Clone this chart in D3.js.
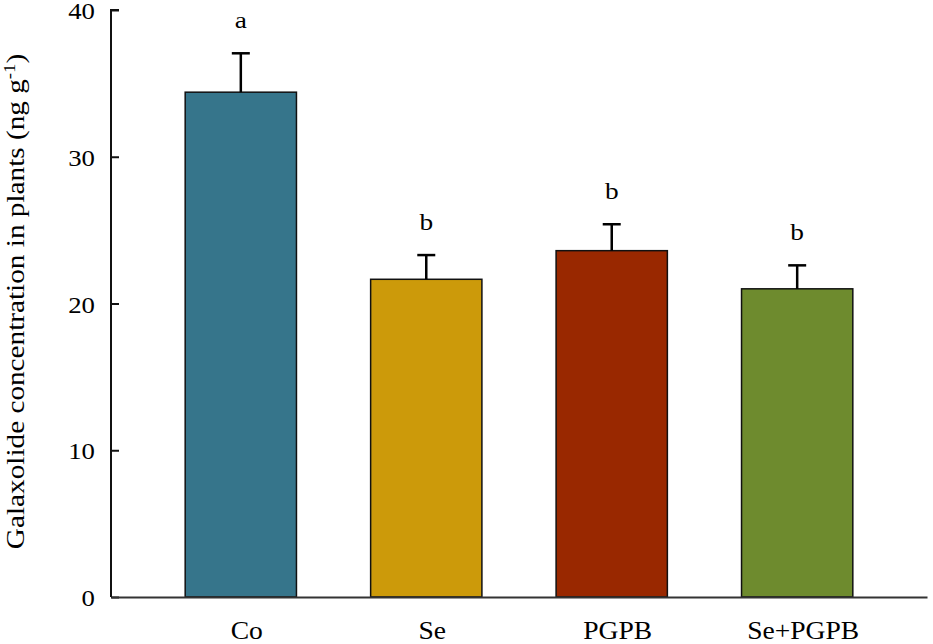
<!DOCTYPE html>
<html>
<head>
<meta charset="utf-8">
<script src="https://cdn.jsdelivr.net/npm/d3@7"></script>
<style>
  html, body { margin: 0; padding: 0; background: #fff; }
  svg { display: block; font-family: "Liberation Serif", "Times New Roman", serif; }
</style>
</head>
<body>
<div id="chart"></div>
<script>
// Galaxolide in plants, per treatment
const groups = ['Co', 'Se', 'PGPB', 'Se+PGPB'];
const means = [34.4, 21.65, 23.6, 21.0];
const errors = [2.65, 1.65, 1.8, 1.6];
const letters = ['a', 'b', 'b', 'b'];
const colors = ['#36758b', '#cc9a0a', '#992800', '#6e8b2e'];
const yTicks = [0, 10, 20, 30, 40];

const W = 933, H = 644;
const plotL = 111, plotR = 927, plotT = 10, plotB = 597;
const stretch = 1.14; // the original serif text is set a bit wide

const svg = d3.select('#chart').append('svg')
    .attr('width', W)
    .attr('height', H);

const x = d3.scaleBand()
    .domain(groups)
    .range([plotL, plotR])
    .paddingInner(0.4)
    .paddingOuter(0.4);

const y = d3.scaleLinear()
    .domain([0, 40])
    .range([plotB, plotT]);

// bars
svg.selectAll('.bar')
    .data(groups)
    .enter()
    .append('rect')
    .attr('class', 'bar')
    .attr('x', d => x(d))
    .attr('y', (d, i) => y(means[i]))
    .attr('width', x.bandwidth())
    .attr('height', (d, i) => y(0) - y(means[i]))
    .attr('fill', (d, i) => colors[i])
    .attr('stroke', '#111')
    .attr('stroke-width', 1.5);

// error bars (upper only)
const capW = 18;
const eb = svg.selectAll('.err')
    .data(groups)
    .enter()
    .append('g')
    .attr('class', 'err')
    .attr('stroke', '#000')
    .attr('stroke-width', 2.5);

eb.append('line')
    .attr('x1', d => x(d) + x.bandwidth() / 2)
    .attr('x2', d => x(d) + x.bandwidth() / 2)
    .attr('y1', (d, i) => y(means[i]))
    .attr('y2', (d, i) => y(means[i] + errors[i]));

eb.append('line')
    .attr('x1', d => x(d) + x.bandwidth() / 2 - capW / 2)
    .attr('x2', d => x(d) + x.bandwidth() / 2 + capW / 2)
    .attr('y1', (d, i) => y(means[i] + errors[i]))
    .attr('y2', (d, i) => y(means[i] + errors[i]));

// significance letters
svg.selectAll('.sig')
    .data(groups)
    .enter()
    .append('text')
    .attr('class', 'sig')
    .attr('transform', (d, i) =>
        `translate(${x(d) + x.bandwidth() / 2},${y(means[i] + errors[i]) - 25}) scale(${stretch},1)`)
    .attr('text-anchor', 'middle')
    .attr('font-size', 24)
    .text((d, i) => letters[i]);

// y axis, ticks pointing inward
const yAxis = svg.append('g')
    .attr('transform', `translate(${plotL},0)`)
    .call(d3.axisRight(y).tickValues(yTicks).tickSize(8).tickFormat(''));
yAxis.select('.domain')
    .attr('d', `M8,${plotT}H0V${plotB}`)
    .attr('stroke', '#111')
    .attr('stroke-width', 2);
yAxis.selectAll('.tick line').attr('stroke', '#111').attr('stroke-width', 2);

svg.selectAll('.ytick')
    .data(yTicks)
    .enter()
    .append('text')
    .attr('class', 'ytick')
    .attr('transform', d => `translate(95,${y(d) + 1}) scale(${stretch},1)`)
    .attr('dy', '0.35em')
    .attr('text-anchor', 'end')
    .attr('font-size', 23.5)
    .text(d => d);

// x axis baseline
const xAxis = svg.append('g')
    .attr('transform', `translate(0,${plotB})`)
    .call(d3.axisBottom(x).tickSize(0).tickPadding(24));
xAxis.select('.domain').attr('stroke', '#333').attr('stroke-width', 2);
xAxis.selectAll('text')
    .attr('font-family', '"Liberation Serif", serif')
    .attr('font-size', 26)
    .attr('fill', '#000')
    .attr('transform', 'translate(6,0) scale(1.06,1)');

// y title
const title = svg.append('text')
    .attr('transform', `translate(24,${(58 + 545) / 2}) rotate(-90) scale(1.17,1)`)
    .attr('text-anchor', 'middle')
    .attr('font-size', 25);
title.append('tspan').text('Galaxolide concentration in plants (ng g');
title.append('tspan').attr('dy', -9).attr('font-size', 16).text('-1');
title.append('tspan').attr('dy', 9).text(')');
</script>
</body>
</html>
